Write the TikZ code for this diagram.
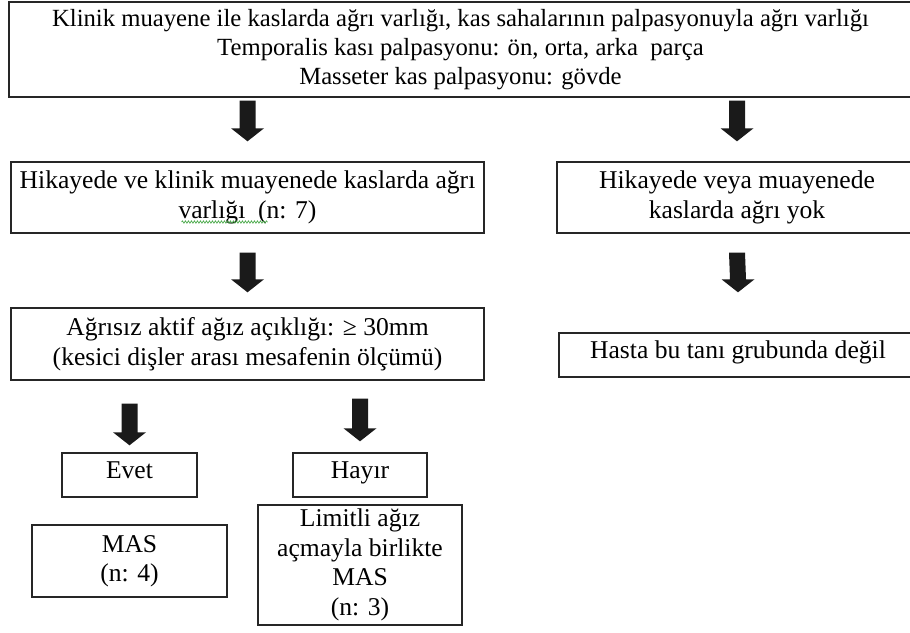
\documentclass[tikz,border=0pt]{standalone}
\usepackage{fontspec}
\setmainfont{Liberation Serif}
\usetikzlibrary{calc,decorations.pathmorphing}
\definecolor{linecol}{HTML}{262626}
\definecolor{arrowcol}{HTML}{1A1A1A}
\definecolor{squig}{HTML}{3DA33D}
\newcommand{\blkarrow}[2]{%
  \fill[arrowcol] ($(#1)+(-8,0)$) -- ($(#1)+(8,0)$) -- ($(#2)+(8,-13)$) -- ($(#2)+(16.5,-13)$) -- (#2) -- ($(#2)+(-16.5,-13)$) -- ($(#2)+(-8,-13)$) -- cycle;}
\begin{document}
\begin{tikzpicture}[x=1pt,y=-1pt,
  box/.style={draw=linecol, line width=1.4pt, rectangle, inner sep=0pt, align=center,
              font=\fontsize{25.6pt}{29.5pt}\selectfont, text=black},
  oneline/.style={text height=17pt, text depth=11pt}]
\useasboundingbox (0,0) rectangle (910,632);
\clip (0,0) rectangle (910,632);
\fill[white] (0,0) rectangle (910,632);

\node[box, font=\fontsize{24.7pt}{29pt}\selectfont, minimum width=903pt, minimum height=95pt] (top) at (460.5,49.5)
  {Klinik muayene ile kaslarda ağrı varlığı, kas sahalarının palpasyonuyla ağrı varlığı\\
   Temporalis kası palpasyonu: ön, orta, arka\ \ parça\\
   Masseter kas palpasyonu: gövde};
\node[box, minimum width=473pt, minimum height=71pt] (l2) at (247.5,197.5)
  {Hikayede ve klinik muayenede kaslarda ağrı\\ varlığı\ \ (n: 7)};
\node[box, minimum width=360pt, minimum height=71pt] (r2) at (737,197.5)
  {Hikayede veya muayenede\\ kaslarda ağrı yok};
\node[box, minimum width=473pt, minimum height=72pt] (l3) at (247.5,344)
  {Ağrısız aktif ağız açıklığı: ≥ 30mm\\ (kesici dişler arası mesafenin ölçümü)};
\node[box, oneline, minimum width=358pt, minimum height=44pt] (r3) at (738,355)
  {Hasta bu tanı grubunda değil};
\node[box, oneline, minimum width=135pt, minimum height=44pt] (evet) at (129.5,475) {Evet};
\node[box, oneline, minimum width=134pt, minimum height=44pt] (hayir) at (360,475) {Hayır};
\node[box, minimum width=195pt, minimum height=72pt] (mas) at (129.5,561) {MAS\\ (n: 4)};
\node[box, minimum width=204pt, minimum height=120pt] (lim) at (360,565)
  {Limitli ağız\\ açmayla birlikte\\ MAS\\ (n: 3)};

% spell-check squiggle
\coordinate (sq1) at ($(l2.center)+(-66,24.5)$);
\coordinate (sq2) at ($(l2.center)+(20,24.5)$);
\draw[squig, line width=0.6pt, decorate, decoration={snake, amplitude=1.2pt, segment length=3pt}] (sq1) -- (sq2);

% block arrows
\coordinate (a1s) at ($(top.south -| l2.north)+(0,3)$);
\coordinate (a1e) at ($(l2.north)+(0,-20)$);
\coordinate (a2s) at ($(top.south -| r2.north)+(0,3)$);
\coordinate (a2e) at ($(r2.north)+(0,-20)$);
\coordinate (a3s) at ($(l2.south)+(0,19)$);
\coordinate (a3e) at ($(l3.north)+(0,-15)$);
\coordinate (a4s) at ($(r2.south)+(0,19)$);
\coordinate (a4e) at ($(r3.north)+(0,-40)$);
\coordinate (a5s) at ($(l3.south -| evet.north)+(0,23)$);
\coordinate (a5e) at ($(evet.north)+(0,-7)$);
\coordinate (a6s) at ($(l3.south -| hayir.north)+(0,18)$);
\coordinate (a6e) at ($(hayir.north)+(0,-11)$);
\blkarrow{a1s}{a1e}
\blkarrow{a2s}{a2e}
\blkarrow{a3s}{a3e}
\blkarrow{a4s}{a4e}
\blkarrow{a5s}{a5e}
\blkarrow{a6s}{a6e}
\end{tikzpicture}
\end{document}
